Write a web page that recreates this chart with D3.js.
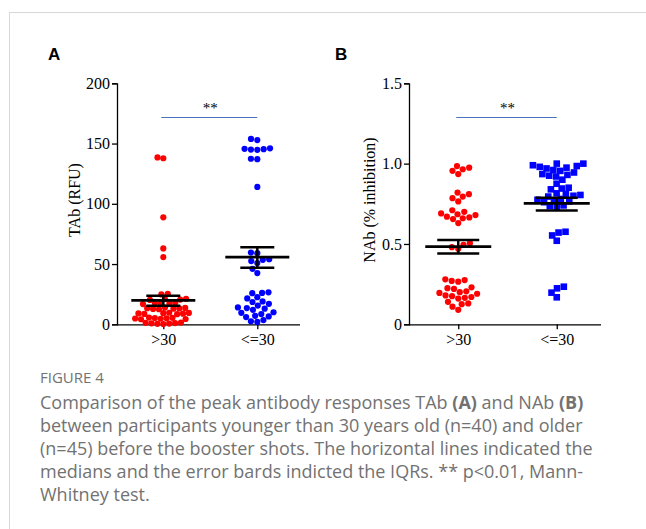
<!DOCTYPE html>
<meta charset="utf-8">
<script src="https://d3js.org/d3.v7.min.js"></script>
<style>
  body { margin: 0; background: #fff; }
  text.serif { font-family: "Liberation Serif", "Times New Roman", serif; font-size: 16px; fill: #000; }
  text.panel { font-family: "Liberation Sans", Arial, sans-serif; font-weight: bold; font-size: 17px; }
  text.caption { font-family: "Open Sans", sans-serif; fill: #727272; }
</style>
<div id="chart"></div>
<script>
// groups on the x axis
var categories = [">30", "<=30"];

// TAb (RFU) values
var tabOld = [138.5, 137.8, 88.8, 63.0, 55.8,
  25.2, 24.8,
  21.2, 20.9, 20.5, 20.2,
  17.9, 17.6, 17.4, 17.1, 16.8,
  13.9, 13.6, 13.4, 13.2, 13.0, 12.8, 12.5,
  9.6, 9.4, 9.2, 9.0, 8.8, 8.6, 8.4,
  5.6, 5.4, 5.2, 5.0, 4.8, 4.6, 4.4, 4.2,
  1.4, 1.2, 1.0, 0.8, 0.6, 0.4, 0.2];
var tabYoung = [153.8, 152.9, 146.0, 145.6, 145.3, 145.0, 144.8, 137.4, 137.0, 114.0,
  59.5, 59.0, 54.0, 53.5, 52.5, 50.8, 46.0, 42.5,
  26.5, 26.0, 25.8, 22.5, 21.5, 19.0, 18.5, 17.0, 15.5, 14.0, 13.5,
  13.0, 12.0, 10.0, 9.5, 8.5, 7.0, 6.5, 6.0, 3.5, 2.5, 2.0];

// NAb (% inhibition) values
var nabOld = [0.985, 0.975, 0.965, 0.955, 0.935,
  0.82, 0.81, 0.795, 0.785, 0.765,
  0.71, 0.70, 0.69, 0.685, 0.68, 0.67, 0.665, 0.66, 0.655, 0.63,
  0.505, 0.495, 0.48, 0.47,
  0.28, 0.275, 0.27, 0.265, 0.23, 0.225, 0.22, 0.205, 0.2, 0.195, 0.19,
  0.18, 0.175, 0.17, 0.165, 0.16, 0.14, 0.13, 0.125, 0.11, 0.09];
var nabYoung = [1.0, 1.0, 0.99, 0.985, 0.98, 0.975, 0.97, 0.96, 0.955,
  0.945, 0.935, 0.93, 0.925, 0.92, 0.9, 0.875, 0.85, 0.845, 0.84,
  0.815, 0.81, 0.805, 0.8, 0.795, 0.78, 0.775, 0.77, 0.765, 0.76,
  0.74, 0.735, 0.73,
  0.576, 0.571, 0.553, 0.52,
  0.234, 0.224, 0.197, 0.168];

// centre line and error bar ends per group
var tabCenter = [19.9, 55.8], tabLow = [15.4, 47.0], tabHigh = [23.7, 63.9];
var nabCenter = [0.483, 0.753], nabLow = [0.44, 0.709], nabHigh = [0.525, 0.788];

var tabTicks = [0, 50, 100, 150, 200];
var nabTicks = [0, 0.5, 1.0, 1.5];

var W = 646, H = 529;
var svg = d3.select("#chart").append("svg").attr("width", W).attr("height", H);

// card outline
svg.append("rect").attr("x", 9.5).attr("y", 12.5).attr("width", 700).attr("height", 600)
  .attr("fill", "none").attr("stroke", "#d8d8d8");

// simple beeswarm: offset each point sideways so the dots don't overlap
function swarm(values, y, diam) {
  var placed = [];
  values.slice().sort(function(a, b) { return a - b; }).forEach(function(v) {
    var py = y(v), cands = [0];
    placed.forEach(function(p) {
      var dy = Math.abs(p.y - py);
      if (dy < diam) {
        var dx = Math.sqrt(diam * diam - dy * dy);
        cands.push(p.dx + dx, p.dx - dx);
      }
    });
    cands.sort(function(a, b) { return Math.abs(a) - Math.abs(b) || a - b; });
    var best = cands.find(function(c) {
      return placed.every(function(p) {
        var ddx = p.dx - c, ddy = p.y - py;
        return ddx * ddx + ddy * ddy >= diam * diam - 0.01;
      });
    });
    placed.push({v: v, y: py, dx: best});
  });
  return placed;
}

function serifText(sel) {
  sel.selectAll("text").attr("class", "serif").attr("font-family", null).attr("font-size", null);
}

function panel(o) {
  var g = svg.append("g");
  var y = d3.scaleLinear().domain(o.domain).range([324.3, 83.3]);
  var x = d3.scalePoint().domain(categories).range(o.xRange).padding(0.5);

  // y axis
  g.append("g")
    .attr("transform", "translate(" + o.axisX + ",0)")
    .call(d3.axisLeft(y).tickValues(o.ticks).tickSize(5).tickPadding(2).tickFormat(o.fmt))
    .call(function(a) {
      a.attr("font-family", null).attr("font-size", null);
      a.selectAll("path,line").attr("stroke-width", 1.3);
      serifText(a);
    });

  // x axis
  g.append("g")
    .attr("transform", "translate(0," + y(0) + ")")
    .call(d3.axisBottom(x).tickSize(5).tickPadding(4).tickSizeOuter(0))
    .call(function(a) {
      a.attr("font-family", null).attr("font-size", null);
      a.select(".domain").attr("d", "M" + o.axisX + ",0.5H" + o.xEnd);
      a.selectAll("path,line").attr("stroke-width", 1.3);
      serifText(a);
    });

  // y label
  g.append("text").attr("class", "serif")
    .attr("transform", "translate(" + o.labelX + ",200) rotate(-90)")
    .attr("text-anchor", "middle").attr("dy", "0.35em")
    .text(o.label);

  // panel letter
  g.append("text").attr("class", "panel").attr("x", o.letterX).attr("y", 60).text(o.letter);

  // significance bar
  g.append("line").attr("x1", x(categories[0]) - 2).attr("x2", x(categories[1]))
    .attr("y1", 117.5).attr("y2", 117.5).attr("stroke", "#4a72c2").attr("stroke-width", 1);
  g.append("text").attr("class", "serif")
    .attr("x", (x(categories[0]) + x(categories[1])) / 2).attr("y", 113)
    .attr("text-anchor", "middle").style("font-size", "15px").text("**");

  // points
  [o.old, o.young].forEach(function(vals, i) {
    var pts = swarm(vals, y, o.diam[i]);
    var cx = x(categories[i]);
    var color = i === 0 ? "#ff0000" : "#0000ff";
    if (o.square[i]) {
      g.selectAll(null).data(pts).enter().append("rect")
        .attr("x", function(d) { return cx + d.dx - 3.3; })
        .attr("y", function(d) { return d.y - 3.3; })
        .attr("width", 6.6).attr("height", 6.6).attr("fill", color);
    } else {
      g.selectAll(null).data(pts).enter().append("circle")
        .attr("cx", function(d) { return cx + d.dx; })
        .attr("cy", function(d) { return d.y; })
        .attr("r", 3.1).attr("fill", color);
    }
  });

  // centre line + error bars
  categories.forEach(function(c, i) {
    var cx = x(c);
    g.append("line").attr("x1", cx - o.lineHalf).attr("x2", cx + o.lineHalf)
      .attr("y1", y(o.center[i])).attr("y2", y(o.center[i]))
      .attr("stroke", "#000").attr("stroke-width", 2.8);
    g.append("line").attr("x1", cx).attr("x2", cx)
      .attr("y1", y(o.low[i])).attr("y2", y(o.high[i]))
      .attr("stroke", "#000").attr("stroke-width", 2.5);
    [o.low[i], o.high[i]].forEach(function(v) {
      g.append("line").attr("x1", cx - o.capHalf).attr("x2", cx + o.capHalf)
        .attr("y1", y(v)).attr("y2", y(v))
        .attr("stroke", "#000").attr("stroke-width", 2.5);
    });
  });
}

panel({
  domain: [0, 200], ticks: tabTicks, fmt: d3.format("d"),
  axisX: 117, xRange: [116.3, 304.3], xEnd: 300,
  label: "TAb (RFU)", labelX: 74, letter: "A", letterX: 48,
  old: tabOld, young: tabYoung, diam: [5.9, 6.4], square: [false, false],
  center: tabCenter, low: tabLow, high: tabHigh, lineHalf: 32, capHalf: 17
});

panel({
  domain: [0, 1.5], ticks: nabTicks, fmt: function(d) { return d === 0 ? "0" : d3.format(".1f")(d); },
  axisX: 409, xRange: [409, 606], xEnd: 601,
  label: "NAb (% inhibition)", labelX: 369, letter: "B", letterX: 335,
  old: nabOld, young: nabYoung, diam: [6.6, 7.0], square: [false, true],
  center: nabCenter, low: nabLow, high: nabHigh, lineHalf: 33, capHalf: 21
});

// caption
svg.append("text").attr("class", "caption").attr("x", 40).attr("y", 383)
  .style("font-size", "15px").text("FIGURE 4");

var capLines = [
  [["Comparison of the peak antibody responses TAb ", 0], ["(A)", 1], [" and NAb ", 0], ["(B)", 1]],
  [["between participants younger than 30 years old (n=40) and older", 0]],
  [["(n=45) before the booster shots. The horizontal lines indicated the", 0]],
  [["medians and the error bards indicted the IQRs. ** p<0.01, Mann-", 0]],
  [["Whitney test.", 0]]
];
capLines.forEach(function(parts, i) {
  var t = svg.append("text").attr("class", "caption").attr("x", 40).attr("y", 409 + i * 23)
    .style("font-size", "18px");
  parts.forEach(function(p) {
    t.append("tspan").attr("font-weight", p[1] ? "bold" : null).text(p[0]);
  });
});
</script>
